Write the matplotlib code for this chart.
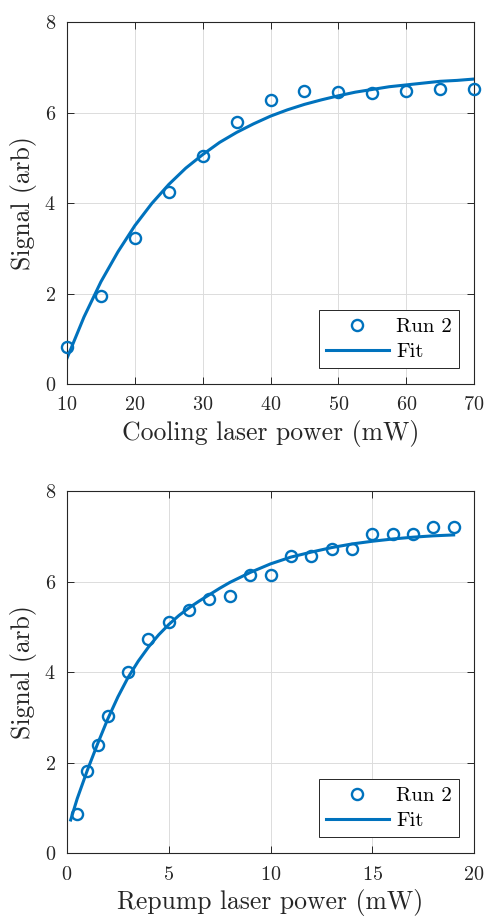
import matplotlib
matplotlib.use("Agg")
import matplotlib.pyplot as plt

plt.rcParams['font.family'] = 'serif'
plt.rcParams['font.serif'] = ['cmr10']
plt.rcParams['mathtext.fontset'] = 'cm'
plt.rcParams['axes.formatter.use_mathtext'] = True

# ---- data: cooling laser scan ----
cool_power = [10, 15, 20, 25, 30, 35, 40, 45, 50, 55, 60, 65, 70]
cool_signal = [0.82, 1.95, 3.23, 4.24, 5.04, 5.80, 6.28, 6.48, 6.45, 6.44, 6.48, 6.52, 6.52]
# fit curve
cool_fit_x = [10, 12.5, 15, 17.5, 20, 22.5, 25, 27.5, 30, 32.5, 35, 37.5, 40, 42.5, 45,
              47.5, 50, 52.5, 55, 57.5, 60, 62.5, 65, 67.5, 70]
cool_fit_y = [0.57, 1.48, 2.26, 2.92, 3.50, 3.99, 4.41, 4.77, 5.07, 5.34, 5.56, 5.75, 5.92,
              6.06, 6.18, 6.28, 6.37, 6.45, 6.51, 6.57, 6.61, 6.65, 6.69, 6.71, 6.74]

# ---- data: repump laser scan ----
rep_power = [0.5, 1, 1.5, 2, 3, 4, 5, 6, 7, 8, 9, 10, 11, 12, 13, 14, 15, 16, 17, 18, 19]
rep_signal = [0.87, 1.82, 2.39, 3.03, 4.00, 4.72, 5.11, 5.36, 5.61, 5.68, 6.15, 6.15,
              6.56, 6.56, 6.73, 6.71, 7.04, 7.04, 7.04, 7.20, 7.20]
rep_fit_x = [0.18, 0.5, 1, 1.5, 2, 2.5, 3, 3.5, 4, 4.5, 5, 5.5, 6, 6.5, 7, 7.5, 8, 9, 10,
             11, 12, 13, 14, 15, 16, 17, 18, 19]
rep_fit_y = [0.73, 1.20, 1.83, 2.41, 2.96, 3.45, 3.88, 4.24, 4.55, 4.82, 5.05, 5.25, 5.42,
             5.57, 5.71, 5.85, 5.98, 6.20, 6.39, 6.54, 6.65, 6.75, 6.83, 6.89, 6.94, 6.98,
             7.01, 7.03]

blue = '#0072BD'
dark = '#262626'

fig = plt.figure(figsize=(4.86, 9.18), dpi=100)
ax1 = fig.add_axes([0.1379, 0.5817, 0.8374, 0.3943])
ax2 = fig.add_axes([0.1379, 0.0708, 0.8374, 0.3943])

panels = [
    (ax1, cool_power, cool_signal, cool_fit_x, cool_fit_y, (10, 70), range(10, 71, 10),
     'Cooling laser power (mW)'),
    (ax2, rep_power, rep_signal, rep_fit_x, rep_fit_y, (0, 20), range(0, 21, 5),
     'Repump laser power (mW)'),
]

for ax, x, y, fx, fy, xlim, xticks, xlabel in panels:
    ax.plot(x, y, 'o', ms=8, mfc='none', mec=blue, mew=1.7, label='Run 2', zorder=3,
            clip_on=False)
    ax.plot(fx, fy, '-', color=blue, lw=2.2, label='Fit', zorder=2)
    ax.set_xlim(*xlim)
    ax.set_ylim(0, 8)
    ax.set_xticks(list(xticks))
    ax.set_yticks([0, 2, 4, 6, 8])
    ax.grid(True, color='#dcdcdc', lw=0.7)
    ax.set_axisbelow(True)
    ax.tick_params(direction='in', top=True, right=True, length=5, width=0.7,
                   labelsize=14.5, colors=dark)
    ax.tick_params(axis='x', pad=9)
    ax.tick_params(axis='y', pad=8)
    for s in ax.spines.values():
        s.set_color(dark)
        s.set_linewidth(0.8)
    ax.set_xlabel(xlabel, fontsize=18.5, color=dark, labelpad=4)
    ax.set_ylabel('Signal (arb)', fontsize=18.5, color=dark, labelpad=5)
    leg = ax.legend(loc='lower right', bbox_to_anchor=(0.963, 0.043), fontsize=15,
                    handlelength=3.0, handletextpad=0.35, borderpad=0.35,
                    labelspacing=0.3, fancybox=False, framealpha=1,
                    edgecolor=dark, borderaxespad=0)
    leg.get_frame().set_linewidth(0.7)

fig.savefig('out.png', dpi=100)
